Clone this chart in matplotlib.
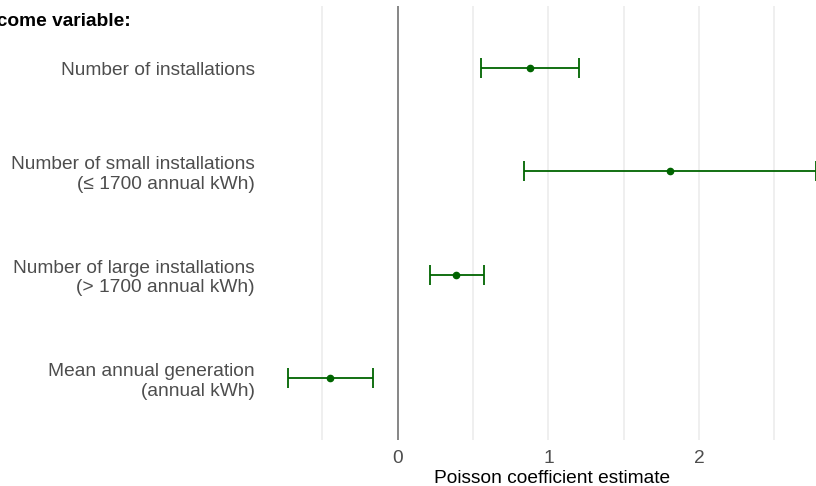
import matplotlib
matplotlib.use("Agg")
import matplotlib.pyplot as plt

plt.rcParams['font.family'] = ['Liberation Sans', 'DejaVu Sans']

# outcome labels, top to bottom
outcomes = [
    "Number of installations",
    "Number of small installations\n(\u2264 1700 annual kWh)",
    "Number of large installations\n(> 1700 annual kWh)",
    "Mean annual generation\n(annual kWh)",
]
estimate = [0.877, 1.805, 0.385, -0.447]
ci_low = [0.550, 0.837, 0.213, -0.726]
ci_high = [1.200, 2.773, 0.570, -0.164]

green = "#006400"
text_grey = "#4D4D4D"

fig = plt.figure(figsize=(8.16, 4.86), dpi=100)
W, H = 816, 486
# panel spans pixels x 262..842 (runs past the right edge), y 6..440
ax = fig.add_axes([262 / W, (H - 440) / H, (842 - 262) / W, (440 - 6) / H])

ypos = list(range(len(outcomes)))
err = [[e - lo for e, lo in zip(estimate, ci_low)],
       [hi - e for e, hi in zip(estimate, ci_high)]]

for g in [-0.5, 0, 0.5, 1, 1.5, 2, 2.5]:
    ax.axvline(g, color="#EBEBEB", lw=1.1, zorder=0)
ax.axvline(0, color="#7F7F7F", lw=1.3, zorder=1)

ax.errorbar(estimate, ypos, xerr=err, fmt="o", color=green, ecolor=green,
            elinewidth=1.3, capsize=7, capthick=1.3, markersize=4.5, zorder=3)

ax.set_xlim(-0.901, 2.948)
ax.set_ylim(len(outcomes) - 0.4, -0.6)
ax.set_xticks([0, 1, 2])
ax.set_yticks(ypos)
ax.set_yticklabels(outcomes, fontsize=13.8, color=text_grey, linespacing=1.2)
ax.tick_params(axis="both", length=0, pad=5)
ax.tick_params(axis="x", labelsize=13.8, labelcolor=text_grey, pad=7)
for s in ax.spines.values():
    s.set_visible(False)

ax.set_xlabel("Poisson coefficient estimate", fontsize=13.8, color="black", labelpad=2)

fig.text(131 / W, 1 - 22 / H, "Outcome variable:", ha="right", va="center",
         fontsize=13.8, fontweight="bold", color="black")

fig.savefig("out.png", dpi=100)
